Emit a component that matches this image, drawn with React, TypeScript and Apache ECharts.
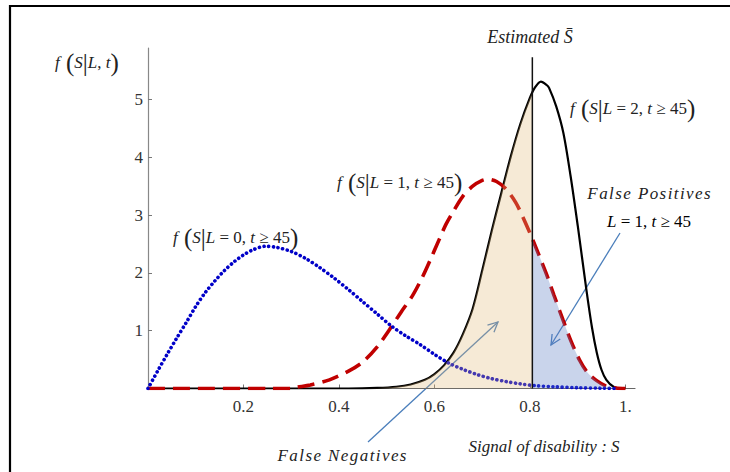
import React, { useEffect, useRef } from "react";
import * as echarts from "echarts";

// f(S | L=0, t>=45)  – blue dotted
const blueX = [0, 0.02, 0.04, 0.06, 0.08, 0.1, 0.12, 0.14, 0.16, 0.18, 0.2, 0.22, 0.245, 0.27, 0.3, 0.33, 0.36, 0.39, 0.42, 0.45, 0.48, 0.51, 0.54, 0.57, 0.6, 0.63, 0.66, 0.69, 0.72, 0.75, 0.78, 0.81, 0.85, 0.9, 0.95, 0.98];
const blueY = [0, 0.3, 0.59, 0.87, 1.14, 1.42, 1.66, 1.86, 2.04, 2.19, 2.31, 2.4, 2.46, 2.44, 2.37, 2.25, 2.09, 1.91, 1.71, 1.5, 1.29, 1.08, 0.91, 0.76, 0.59, 0.44, 0.33, 0.24, 0.17, 0.12, 0.08, 0.05, 0.03, 0.015, 0.005, 0];

// f(S | L=1, t>=45)  – red dashed
const redX = [0, 0.3, 0.31, 0.34, 0.38, 0.42, 0.45, 0.48, 0.506, 0.53, 0.555, 0.575, 0.59, 0.61, 0.624, 0.64, 0.659, 0.68, 0.7, 0.712, 0.73, 0.75, 0.77, 0.785, 0.806, 0.834, 0.85, 0.869, 0.886, 0.904, 0.92, 0.939, 0.96, 0.98, 1.0];
const redY = [0, 0, 0.02, 0.06, 0.15, 0.3, 0.46, 0.72, 1.02, 1.32, 1.62, 1.93, 2.2, 2.58, 2.84, 3.07, 3.32, 3.5, 3.6, 3.62, 3.58, 3.45, 3.22, 2.97, 2.57, 1.99, 1.62, 1.19, 0.82, 0.49, 0.28, 0.14, 0.04, 0.01, 0];

// f(S | L=2, t>=45)  – black solid
const blackX = [0, 0.42, 0.48, 0.52, 0.55, 0.58, 0.6, 0.62, 0.64, 0.66, 0.68, 0.7, 0.72, 0.74, 0.76, 0.78, 0.8, 0.81, 0.823, 0.835, 0.84, 0.855, 0.87, 0.885, 0.9, 0.918, 0.93, 0.94, 0.95, 0.96, 0.975, 0.99, 1.0];
const blackY = [0, 0, 0.01, 0.03, 0.07, 0.15, 0.25, 0.4, 0.62, 0.95, 1.38, 2.04, 2.73, 3.38, 4.02, 4.58, 5.03, 5.2, 5.31, 5.25, 5.2, 4.88, 4.42, 3.68, 2.82, 1.72, 1.05, 0.62, 0.32, 0.15, 0.03, 0, 0];

const estimatedS = 0.805;
const estimatedLineTop = 5.73;
const xTickValues = [0.2, 0.4, 0.6, 0.8, 1.0];
const yTickValues = [1, 2, 3, 4, 5];

const SERIF = "'Liberation Serif', 'Times New Roman', serif";
const HS = "\u200A";

function spaced(s: string) {
  return s.split("").join(HS);
}

function pairs(xs: number[], ys: number[]) {
  return xs.map((x, i) => [x, ys[i]]);
}
function interp(xs: number[], ys: number[], c: number) {
  for (let i = 1; i < xs.length; i++) {
    if (xs[i] >= c) {
      const t = (c - xs[i - 1]) / (xs[i] - xs[i - 1]);
      return ys[i - 1] + t * (ys[i] - ys[i - 1]);
    }
  }
  return ys[ys.length - 1];
}
function leftOf(xs: number[], ys: number[], c: number) {
  const out = pairs(xs, ys).filter((p) => p[0] < c);
  out.push([c, interp(xs, ys, c)]);
  return out;
}
function rightOf(xs: number[], ys: number[], c: number) {
  const out: number[][] = [[c, interp(xs, ys, c)]];
  return out.concat(pairs(xs, ys).filter((p) => p[0] > c));
}

function arrow(x1: number, y1: number, x2: number, y2: number, color: string) {
  const ang = Math.atan2(y2 - y1, x2 - x1);
  const L = 11;
  const a = 0.45;
  const p1 = [x2 - L * Math.cos(ang - a), y2 - L * Math.sin(ang - a)];
  const p2 = [x2 - L * Math.cos(ang + a), y2 - L * Math.sin(ang + a)];
  return [
    { type: "line", shape: { x1, y1, x2, y2 }, style: { stroke: color, lineWidth: 1.3 } },
    { type: "polyline", shape: { points: [p1, [x2, y2], p2] }, style: { stroke: color, lineWidth: 1.3, fill: null } },
  ];
}

const rich = {
  i: { fontStyle: "italic", fontSize: 17, fontFamily: SERIF, color: "#222" },
  r: { fontSize: 17, fontFamily: SERIF, color: "#222" },
  p: { fontSize: 25, fontFamily: SERIF, color: "#555", fontWeight: 100 },
};

function mathLabel(x: number, y: number, text: string) {
  return {
    type: "text",
    x,
    y,
    style: { text, rich, verticalAlign: "middle", align: "left", fill: "#222", font: `17px ${SERIF}` },
  };
}

export default function App() {
  const ref = useRef<HTMLDivElement>(null);
  useEffect(() => {
    document.body.style.margin = "0";
    const chart = echarts.init(ref.current!, null, { renderer: "svg" });
    const arrowColor = "#4a7ebb";
    chart.setOption({
      animation: false,
      backgroundColor: "#ffffff",
      grid: { left: 148, right: 95, top: 48, bottom: 83.5 },
      xAxis: {
        type: "value",
        min: 0,
        max: 1.02,
        interval: 0.2,
        splitLine: { show: false },
        axisLine: { lineStyle: { color: "#666", width: 1.2 } },
        axisTick: { inside: true, length: 4, lineStyle: { color: "#777" } },
        axisLabel: {
          margin: 9,
          fontSize: 17,
          fontFamily: SERIF,
          color: "#333",
          showMinLabel: false,
          showMaxLabel: false,
          formatter: (v: number) => {
            const hit = xTickValues.find((t) => Math.abs(t - v) < 1e-6);
            if (hit === undefined) return "";
            return hit === 1 ? "1." : String(hit);
          },
        },
      },
      yAxis: {
        type: "value",
        min: 0,
        max: 5.89,
        interval: 1,
        splitLine: { show: false },
        axisLine: { show: true, lineStyle: { color: "#888", width: 1.2 } },
        axisTick: { show: true, inside: true, length: 4, lineStyle: { color: "#777" } },
        axisLabel: {
          margin: 5,
          fontSize: 17,
          fontFamily: SERIF,
          color: "#333",
          showMinLabel: false,
          showMaxLabel: false,
          formatter: (v: number) => (yTickValues.includes(v) ? String(v) : ""),
        },
      },
      series: [
        {
          name: "L=2",
          type: "line",
          data: pairs(blackX, blackY),
          showSymbol: false,
          smooth: 0.3,
          lineStyle: { color: "#000", width: 2.2 },
          z: 2,
        },
        {
          name: "L=1",
          type: "line",
          data: pairs(redX, redY),
          showSymbol: false,
          smooth: 0.3,
          lineStyle: { color: "#c00000", width: 3.6, type: [17, 8] },
          z: 2,
        },
        {
          name: "L=0",
          type: "line",
          data: pairs(blueX, blueY),
          showSymbol: false,
          smooth: 0.3,
          lineStyle: { color: "#0000c8", width: 3.6, type: [0.1, 4.6], cap: "round" },
          z: 2,
        },
        {
          name: "False Negatives",
          type: "line",
          data: leftOf(blackX, blackY, estimatedS),
          showSymbol: false,
          smooth: 0.3,
          lineStyle: { width: 0 },
          areaStyle: { color: "rgba(225,185,118,0.3)", opacity: 1 },
          z: 3,
        },
        {
          name: "False Positives",
          type: "line",
          data: rightOf(redX, redY, estimatedS),
          showSymbol: false,
          smooth: 0.3,
          lineStyle: { width: 0 },
          areaStyle: { color: "rgba(90,125,195,0.33)", opacity: 1 },
          z: 3,
        },
        {
          name: "Estimated S",
          type: "line",
          data: [
            [estimatedS, 0],
            [estimatedS, estimatedLineTop],
          ],
          showSymbol: false,
          lineStyle: { color: "#111", width: 1.5 },
          z: 4,
        },
      ],
      graphic: [
        { type: "polyline", shape: { points: [[10, 472], [10, 6], [730, 6]] }, style: { stroke: "#000", lineWidth: 2.2, fill: null } },
        ...arrow(368, 442, 498, 322, arrowColor),
        ...arrow(620, 233, 551, 345, arrowColor),
        mathLabel(55, 62, "{i|f}{p| (}{i|S}{p||}{i|L}{r|, }{i|t}{p|)}"),
        {
          type: "text",
          x: 530,
          y: 37,
          style: { text: "Estimated S\u0304", font: `italic 18px ${SERIF}`, fill: "#222", align: "center", verticalAlign: "middle" },
        },
        mathLabel(570, 108, "{i|f}{p| (}{i|S}{p||}{i|L}{r| = 2, }{i|t}{r| ≥ 45}{p|)}"),
        mathLabel(337, 182, "{i|f}{p| (}{i|S}{p||}{i|L}{r| = 1, }{i|t}{r| ≥ 45}{p|)}"),
        mathLabel(173, 237, "{i|f}{p| (}{i|S}{p||}{i|L}{r| = 0, }{i|t}{r| ≥ 45}{p|)}"),
        {
          type: "text",
          x: 649,
          y: 193,
          style: { text: spaced("False Positives"), font: `italic 17px ${SERIF}`, fill: "#222", align: "center", verticalAlign: "middle" },
        },
        {
          type: "text",
          x: 607,
          y: 221,
          style: { text: "{i|L}{r| = 1, }{i|t}{r| ≥ 45}", rich, align: "left", verticalAlign: "middle" },
        },
        {
          type: "text",
          x: 342,
          y: 455,
          style: { text: spaced("False Negatives"), font: `italic 17px ${SERIF}`, fill: "#222", align: "center", verticalAlign: "middle" },
        },
        {
          type: "text",
          x: 544,
          y: 446,
          style: { text: "Signal of disability : S", font: `italic 17px ${SERIF}`, fill: "#222", align: "center", verticalAlign: "middle" },
        },
      ],
    });
    return () => chart.dispose();
  }, []);
  return <div ref={ref} style={{ width: 730, height: 472 }} />;
}
